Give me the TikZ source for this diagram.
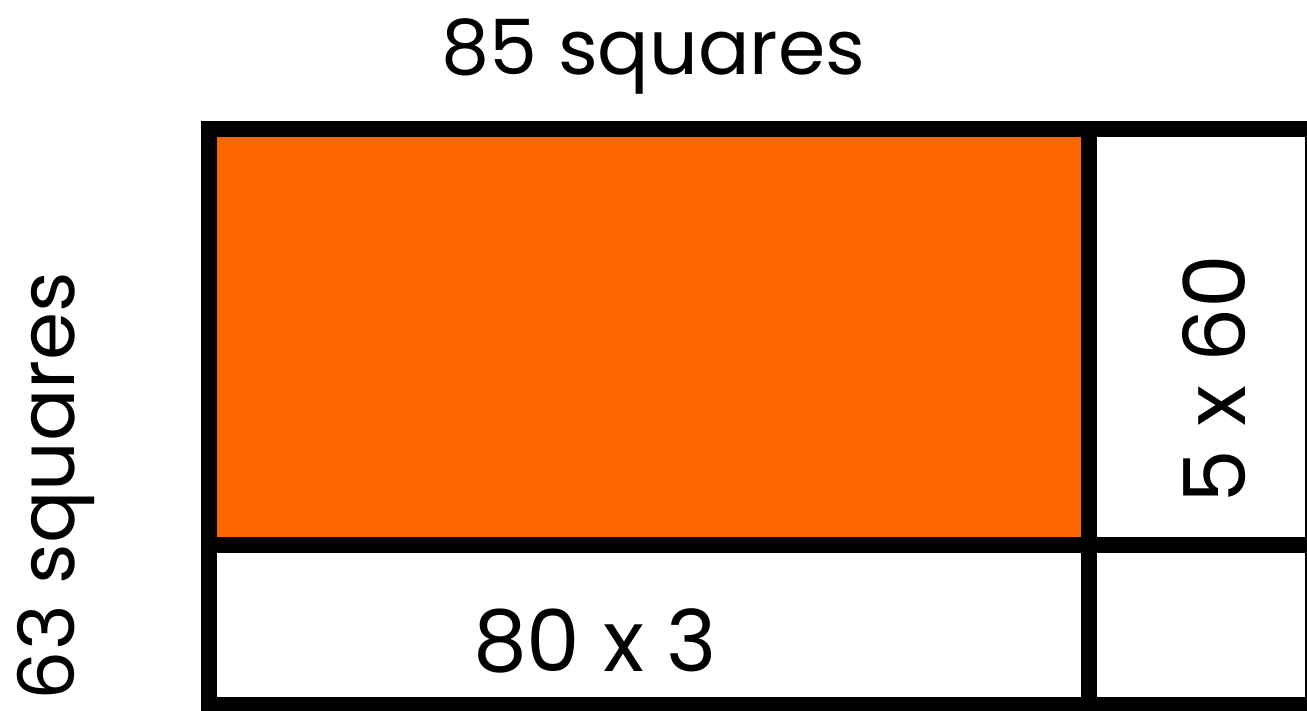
\documentclass[tikz,border=0pt]{standalone}
\usepackage{fontspec}
\setmainfont{Poppins}
\definecolor{boxorange}{HTML}{FF6600}
\tikzset{
  gridline/.style={line width=16pt, draw=black},
  lbl/.style={inner sep=0pt, anchor=base, text=black}
}
\begin{document}
\begin{tikzpicture}[x=1pt,y=1pt]
\useasboundingbox (0,0) rectangle (1307,710);
% orange block
\fill[boxorange] (217,173) rectangle (1081,573);
% frame and dividers
\draw[gridline] (209,581) rectangle (1313,5);
\draw[gridline] (1089,581) -- (1089,5);
\draw[gridline] (209,165) -- (1313,165);
% labels
\node[lbl] (top) at (653.5,635) {\resizebox{423pt}{!}{85 squares}};
\node[lbl] (bottom) at (595,38) {\resizebox{244pt}{!}{80 x 3}};
\node[lbl, rotate=90] (right) at (1245,331) {\resizebox{248pt}{!}{5 x 60}};
\node[lbl, rotate=90] (left) at (75,224) {\resizebox{428pt}{!}{63 squares}};
\end{tikzpicture}
\end{document}
